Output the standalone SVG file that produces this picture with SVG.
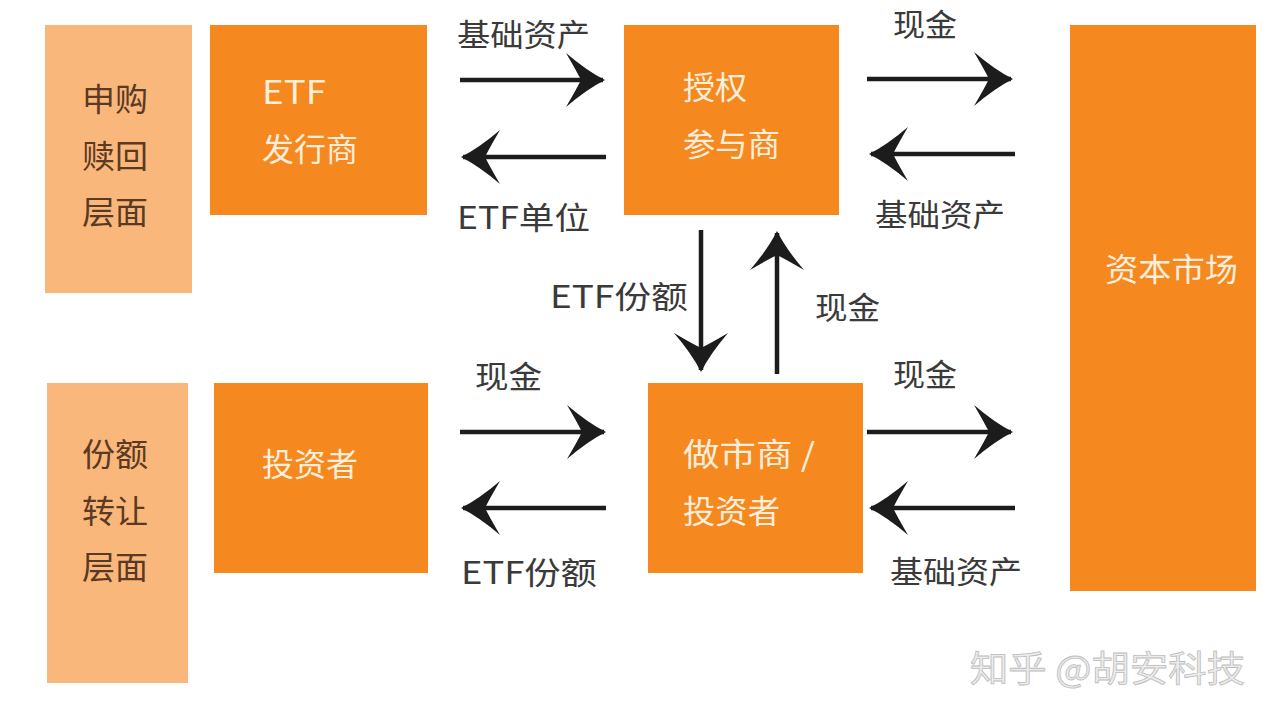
<svg xmlns="http://www.w3.org/2000/svg" width="1280" height="720" viewBox="0 0 1280 720">
<style>
.pale{fill:#FAB77C}
.org{fill:#F5881F}
.lbl{font-family:"Noto Sans CJK SC","Liberation Sans",sans-serif;font-size:31px;fill:#3a3a3a}
.nt{font-family:"Noto Sans CJK SC","Liberation Sans",sans-serif;font-size:32px;fill:#FDEEDC}
.lt{font-family:"Noto Sans CJK SC","Liberation Sans",sans-serif;font-size:32px;fill:#5A3A22}
.wm{font-family:"Noto Sans CJK SC","Liberation Sans",sans-serif;font-size:36px;fill:#ECECEC;stroke:#BDBDBD;stroke-width:0.8}
.ln{stroke:#1c1c1c;stroke-width:4.5;fill:none;marker-end:url(#ah)}
</style>
<defs>
<marker id="ah" markerUnits="userSpaceOnUse" viewBox="-40 -30 44 60" refX="0" refY="0" markerWidth="44" markerHeight="60" orient="auto">
<path d="M2,0 Q-16,-9 -37,-27 Q-27,-10 -22,0 Q-27,10 -37,27 Q-16,9 2,0 Z" fill="#1c1c1c"/>
</marker>
</defs>
<rect width="1280" height="720" fill="#ffffff"/>
<g id="level-subscribe">
<rect class="pale" x="45" y="25" width="147" height="268"/>
<text class="lt" x="82" y="111" textLength="66" lengthAdjust="spacingAndGlyphs">申购</text>
<text class="lt" x="82" y="168" textLength="66" lengthAdjust="spacingAndGlyphs">赎回</text>
<text class="lt" x="82" y="224" textLength="66" lengthAdjust="spacingAndGlyphs">层面</text>
</g>
<g id="level-transfer">
<rect class="pale" x="47" y="383" width="141" height="300"/>
<text class="lt" x="82" y="466" textLength="66" lengthAdjust="spacingAndGlyphs">份额</text>
<text class="lt" x="82" y="523" textLength="66" lengthAdjust="spacingAndGlyphs">转让</text>
<text class="lt" x="82" y="579" textLength="66" lengthAdjust="spacingAndGlyphs">层面</text>
</g>
<g id="etf-issuer">
<rect class="org" x="210" y="25" width="217" height="190"/>
<text class="nt" x="262" y="104" textLength="64" lengthAdjust="spacingAndGlyphs">ETF</text>
<text class="nt" x="262" y="161" textLength="96" lengthAdjust="spacingAndGlyphs">发行商</text>
</g>
<g id="authorized-participant">
<rect class="org" x="624" y="25" width="215" height="190"/>
<text class="nt" x="683" y="99" textLength="64" lengthAdjust="spacingAndGlyphs">授权</text>
<text class="nt" x="683" y="156" textLength="97" lengthAdjust="spacingAndGlyphs">参与商</text>
</g>
<g id="capital-market">
<rect class="org" x="1070" y="25" width="186" height="566"/>
<text class="nt" x="1105" y="281" textLength="133" lengthAdjust="spacingAndGlyphs">资本市场</text>
</g>
<g id="investor">
<rect class="org" x="214" y="383" width="214" height="190"/>
<text class="nt" x="262" y="476" textLength="96" lengthAdjust="spacingAndGlyphs">投资者</text>
</g>
<g id="market-maker">
<rect class="org" x="648" y="383" width="215" height="190"/>
<text class="nt" x="683" y="466" textLength="132" lengthAdjust="spacingAndGlyphs">做市商 /</text>
<text class="nt" x="683" y="523" textLength="97" lengthAdjust="spacingAndGlyphs">投资者</text>
</g>
<g id="connectors">
<line class="ln" x1="460" y1="80" x2="603" y2="80"/>
<line class="ln" x1="606" y1="157" x2="463" y2="157"/>
<line class="ln" x1="867" y1="79" x2="1011" y2="79"/>
<line class="ln" x1="1015" y1="154" x2="871" y2="154"/>
<line class="ln" x1="701" y1="230" x2="701" y2="370"/>
<line class="ln" x1="777" y1="374" x2="777" y2="233"/>
<line class="ln" x1="460" y1="432" x2="604" y2="432"/>
<line class="ln" x1="606" y1="508" x2="463" y2="508"/>
<line class="ln" x1="867" y1="432" x2="1011" y2="432"/>
<line class="ln" x1="1015" y1="508" x2="871" y2="508"/>
<text class="lbl" x="457" y="46" textLength="133" lengthAdjust="spacingAndGlyphs">基础资产</text>
<text class="lbl" x="457" y="229" textLength="133" lengthAdjust="spacingAndGlyphs">ETF单位</text>
<text class="lbl" x="893" y="36" textLength="64" lengthAdjust="spacingAndGlyphs">现金</text>
<text class="lbl" x="875" y="226" textLength="130" lengthAdjust="spacingAndGlyphs">基础资产</text>
<text class="lbl" x="550" y="308" textLength="138" lengthAdjust="spacingAndGlyphs">ETF份额</text>
<text class="lbl" x="815" y="319" textLength="65" lengthAdjust="spacingAndGlyphs">现金</text>
<text class="lbl" x="475" y="388" textLength="67" lengthAdjust="spacingAndGlyphs">现金</text>
<text class="lbl" x="893" y="386" textLength="64" lengthAdjust="spacingAndGlyphs">现金</text>
<text class="lbl" x="461" y="584" textLength="136" lengthAdjust="spacingAndGlyphs">ETF份额</text>
<text class="lbl" x="890" y="583" textLength="132" lengthAdjust="spacingAndGlyphs">基础资产</text>
</g>
<text class="wm" x="970" y="682" textLength="275" lengthAdjust="spacingAndGlyphs">知乎 @胡安科技</text>
</svg>
